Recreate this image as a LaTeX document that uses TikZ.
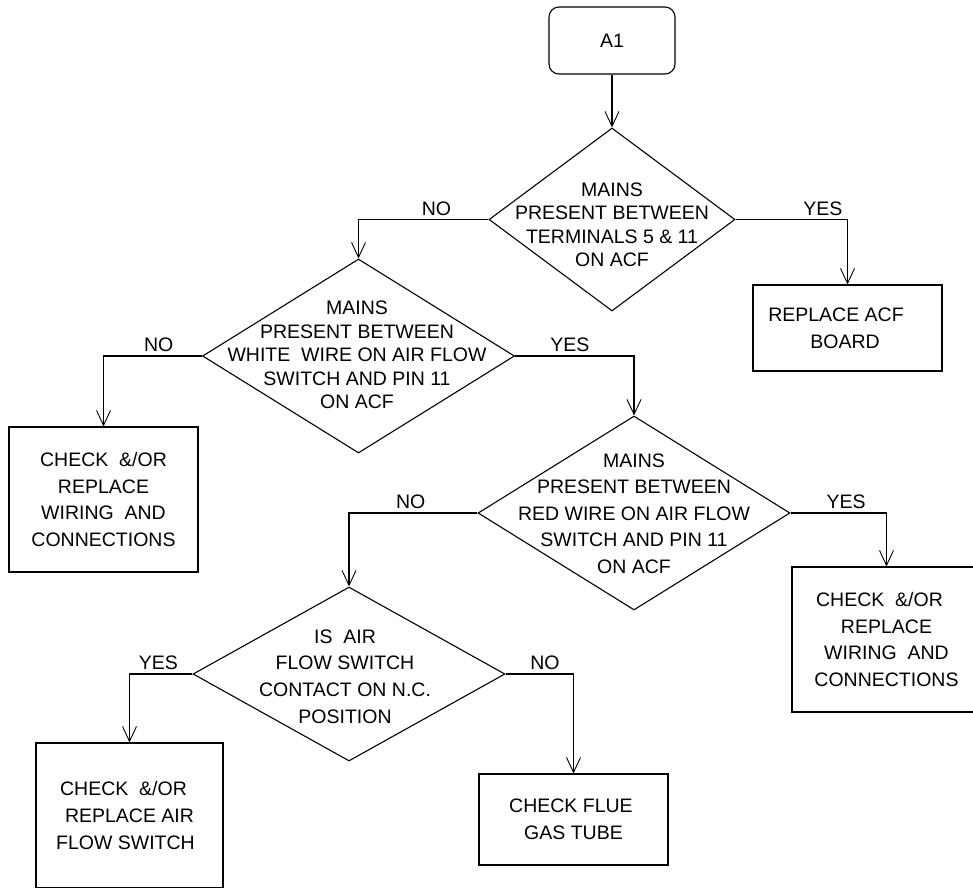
\documentclass[tikz,border=0pt]{standalone}
\usepackage{fontspec}
\setmainfont{Liberation Sans}
\usetikzlibrary{arrows.meta,shapes.geometric}

\begin{document}
\begin{tikzpicture}[x=1pt,y=-1pt,>={Straight Barb[length=15pt,width=14pt,line width=0.9pt]},line width=1.1pt,
    font=\fontsize{19.5}{26.6}\selectfont,
    decision/.style={draw,diamond,inner sep=0pt,minimum width=312pt,minimum height=194pt},
    action/.style={draw,rectangle,inner sep=0pt,align=center,minimum width=189pt,minimum height=145pt},
    qtext/.style={align=center,inner sep=0pt},
    tight/.style={font=\fontsize{19.5}{23.5}\selectfont}]
    \useasboundingbox (0,0) rectangle (973,887);

    \node[draw,rounded corners=10pt,minimum width=126pt,minimum height=67pt] (start) at (612,40.5) {A1};

    \node[decision,minimum width=246pt,minimum height=183pt] (mainsacf) at (612,219.5) {};
    \node[qtext,tight] (mainsacftext) at (612,225) {MAINS\\PRESENT BETWEEN\\TERMINALS 5 \& 11\\ON ACF};
    \node[decision] (whitewire) at (358.5,356) {};
    \node[qtext,tight] (whitewiretext) at (357,355) {MAINS\\PRESENT BETWEEN\\WHITE\ \ WIRE ON AIR FLOW\\SWITCH AND PIN 11\\ON ACF};
    \node[decision] (redwire) at (634,513) {};
    \node[qtext] (redwiretext) at (634,513.5) {MAINS\\PRESENT BETWEEN\\RED WIRE ON AIR FLOW\\SWITCH AND PIN 11\\ON ACF};
    \node[decision,minimum height=174pt] (afswitch) at (349,674) {};
    \node[qtext] (afswitchtext) at (345,676.5) {IS\ \ AIR\\FLOW SWITCH\\CONTACT ON N.C.\\POSITION};

    \node[action,minimum height=86pt] (replaceacf) at (847.5,328) {REPLACE ACF\hspace*{23pt}\\BOARD\hspace*{5pt}};
    \node[action] (wiringleft) at (103.5,499.5) {CHECK\ \ \&/OR\\REPLACE\\WIRING\ \ AND\\CONNECTIONS};
    \node[action] (wiringright) at (886.5,639.5) {CHECK\ \ \&/OR\hspace*{14pt}\\REPLACE\\WIRING\ \ AND\hspace*{6pt}\\CONNECTIONS};
    \node[action,minimum width=187pt] (replaceafs) at (129.5,815.5) {CHECK\ \ \&/OR\hspace*{12pt}\\REPLACE AIR\hspace*{8pt}\\FLOW SWITCH\hspace*{8pt}};
    \node[action,minimum height=91pt] (checkflue) at (573.5,819.5) {CHECK FLUE\hspace*{5pt}\\GAS TUBE};

    \draw[->] (start) -- (mainsacf);
    \draw[->] (mainsacf.west) -| node[above,pos=.2] (nomains) {NO} (whitewire.north);
    \draw[->] (mainsacf.east) -| node[above,pos=.39] (yesmains) {YES} (replaceacf.north);
    \draw[->] (whitewire.west) -| node[above,pos=.22] (nowhite) {NO} (wiringleft.north);
    \draw[->] (whitewire.east) -| node[above,pos=.23] (yeswhite) {YES} (redwire.north);
    \draw[->] (redwire.west) -| node[above,pos=.26] (nored) {NO} (afswitch.north);
    \draw[->] (redwire.east) -| node[above,pos=.29] (yesred) {YES} (wiringright.north);
    \draw[->] (afswitch.west) -| node[above,pos=.27] (yesafs) {YES} (replaceafs.north);
    \draw[->] (afswitch.east) -| node[above,pos=.29] (noafs) {NO} (checkflue.north);
\end{tikzpicture}
\end{document}
